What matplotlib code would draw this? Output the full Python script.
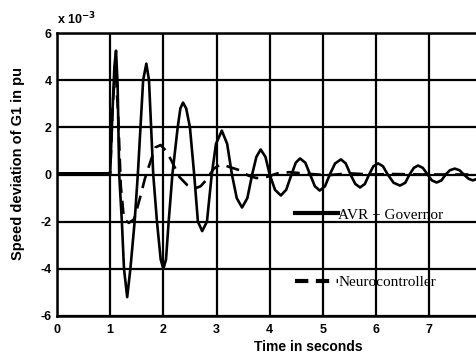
import matplotlib
matplotlib.use("Agg")
import matplotlib.pyplot as plt
from matplotlib.lines import Line2D

plt.rcParams['axes.unicode_minus'] = False
plt.rcParams['font.family'] = ['Liberation Sans', 'DejaVu Sans']

# AVR + Governor (speed deviation, x 1e-3 pu)
avr_t = [0.0, 0.5, 1.0, 1.04, 1.08, 1.11, 1.14, 1.17, 1.22, 1.26, 1.32, 1.38, 1.46, 1.52,
         1.57, 1.62, 1.68, 1.73, 1.77, 1.81, 1.88, 1.95, 2.0, 2.05, 2.1, 2.17,
         2.27, 2.32, 2.37, 2.43, 2.5, 2.58, 2.65, 2.73, 2.82, 2.91,
         2.99, 3.1, 3.2, 3.29, 3.38, 3.48, 3.58, 3.67, 3.75, 3.83, 3.92, 4.0,
         4.1, 4.21, 4.31, 4.41, 4.49, 4.57, 4.67, 4.76, 4.85, 4.94, 5.04, 5.13,
         5.23, 5.34, 5.43, 5.52, 5.61, 5.7, 5.79, 5.87, 5.95, 6.04, 6.13, 6.22,
         6.33, 6.45, 6.55, 6.63, 6.71, 6.79, 6.88, 6.97, 7.05, 7.14, 7.23, 7.31,
         7.39, 7.48, 7.57, 7.65, 7.74, 7.82, 7.88]
avr_v = [0.05, 0.05, 0.05, 2.5, 4.6, 5.25, 3.8, 0.0, -2.0, -4.0, -5.2, -4.0, -2.0, 0.0,
         2.0, 4.0, 4.7, 4.0, 2.0, 0.0, -2.0, -3.6, -4.0, -3.6, -2.0, 0.0,
         2.0, 2.8, 3.05, 2.8, 2.0, 0.0, -2.0, -2.4, -2.0, 0.0,
         1.3, 1.86, 1.3, 0.0, -1.0, -1.4, -1.0, 0.0, 0.75, 1.06, 0.75, 0.0,
         -0.65, -0.89, -0.65, 0.0, 0.5, 0.68, 0.5, 0.0, -0.5, -0.68, -0.5, 0.0,
         0.47, 0.64, 0.47, 0.0, -0.4, -0.55, -0.4, 0.0, 0.35, 0.47, 0.35, 0.0,
         -0.35, -0.47, -0.35, 0.0, 0.28, 0.38, 0.28, 0.0, -0.25, -0.34, -0.25, 0.0,
         0.18, 0.25, 0.18, 0.0, -0.18, -0.25, -0.2]

# Neurocontroller
neuro_t = [0.0, 0.5, 1.0, 1.05, 1.1, 1.15, 1.2, 1.26, 1.35, 1.45, 1.56, 1.65, 1.75, 1.85,
           1.95, 2.05, 2.15, 2.3, 2.45, 2.58, 2.7, 2.8, 2.95, 3.07, 3.2, 3.45, 3.6,
           3.75, 3.95, 4.15, 4.38, 4.6, 4.9, 5.1, 5.5, 5.9, 6.3, 6.9, 7.88]
neuro_v = [0.05, 0.05, 0.05, 3.0, 4.6, 2.5, -0.5, -1.9, -2.05, -1.9, -1.0, -0.2, 0.5, 1.15,
           1.25, 1.0, 0.6, -0.1, -0.45, -0.6, -0.5, -0.25, 0.25, 0.42, 0.35, 0.17, -0.05,
           -0.15, -0.1, 0.05, 0.1, 0.05, 0.0, -0.03, 0.05, 0.0, 0.02, 0.0, 0.0]

x_ticks = [0, 1, 2, 3, 4, 5, 6, 7]
y_ticks = [-6, -4, -2, 0, 2, 4, 6]
series_labels = ['AVR + Governor', 'Neurocontroller']

fig = plt.figure(figsize=(4.76, 3.54), dpi=100)
ax = fig.add_axes([57/476, 1 - 316/354, 1 - 57/476, (316 - 33)/354])

ax.plot(avr_t, avr_v, color='black', lw=1.9, solid_joinstyle='round', zorder=3)
ax.plot(neuro_t, neuro_v, color='black', lw=1.9, dashes=(5, 3), zorder=3)

ax.set_xlim(0, 7.88)
ax.set_ylim(-6, 6)
ax.set_xticks(x_ticks)
ax.set_yticks(y_ticks)
ax.set_xticklabels([str(v) for v in x_ticks], fontweight='bold', fontsize=9)
ax.set_yticklabels([str(v) for v in y_ticks], fontweight='bold', fontsize=9)
ax.tick_params(axis='x', length=0, pad=6)
ax.tick_params(axis='y', length=0, pad=4)
ax.grid(True, color='black', lw=1.6)
ax.set_axisbelow(True)
for s in ['left', 'top', 'bottom']:
    ax.spines[s].set_linewidth(1.8)
ax.spines['right'].set_visible(False)

ax.set_xlabel('Time in seconds', fontsize=10, fontweight='bold')
ax.xaxis.set_label_coords(0.6, -0.085)
ax.set_ylabel('Speed deviation of G1 in pu', fontsize=10.5, fontweight='bold')
ax.yaxis.set_label_coords(-0.076, 0.54)
ax.text(0.0, 1.02, r'x 10$^{\mathbf{-3}}$', transform=ax.transAxes, fontsize=9,
        fontweight='bold', ha='left', va='bottom')

handles = [Line2D([], [], color='black', lw=3),
           Line2D([], [], color='black', lw=3, dashes=(3.2, 1.8))]
leg = ax.legend(handles, series_labels, loc='upper left', bbox_to_anchor=(0.553, 0.403),
                frameon=False, handlelength=2.85, handletextpad=0.0, labelspacing=3.5,
                prop={'family': 'Liberation Serif', 'size': 11}, borderaxespad=0)

fig.savefig('out.png', dpi=100)
